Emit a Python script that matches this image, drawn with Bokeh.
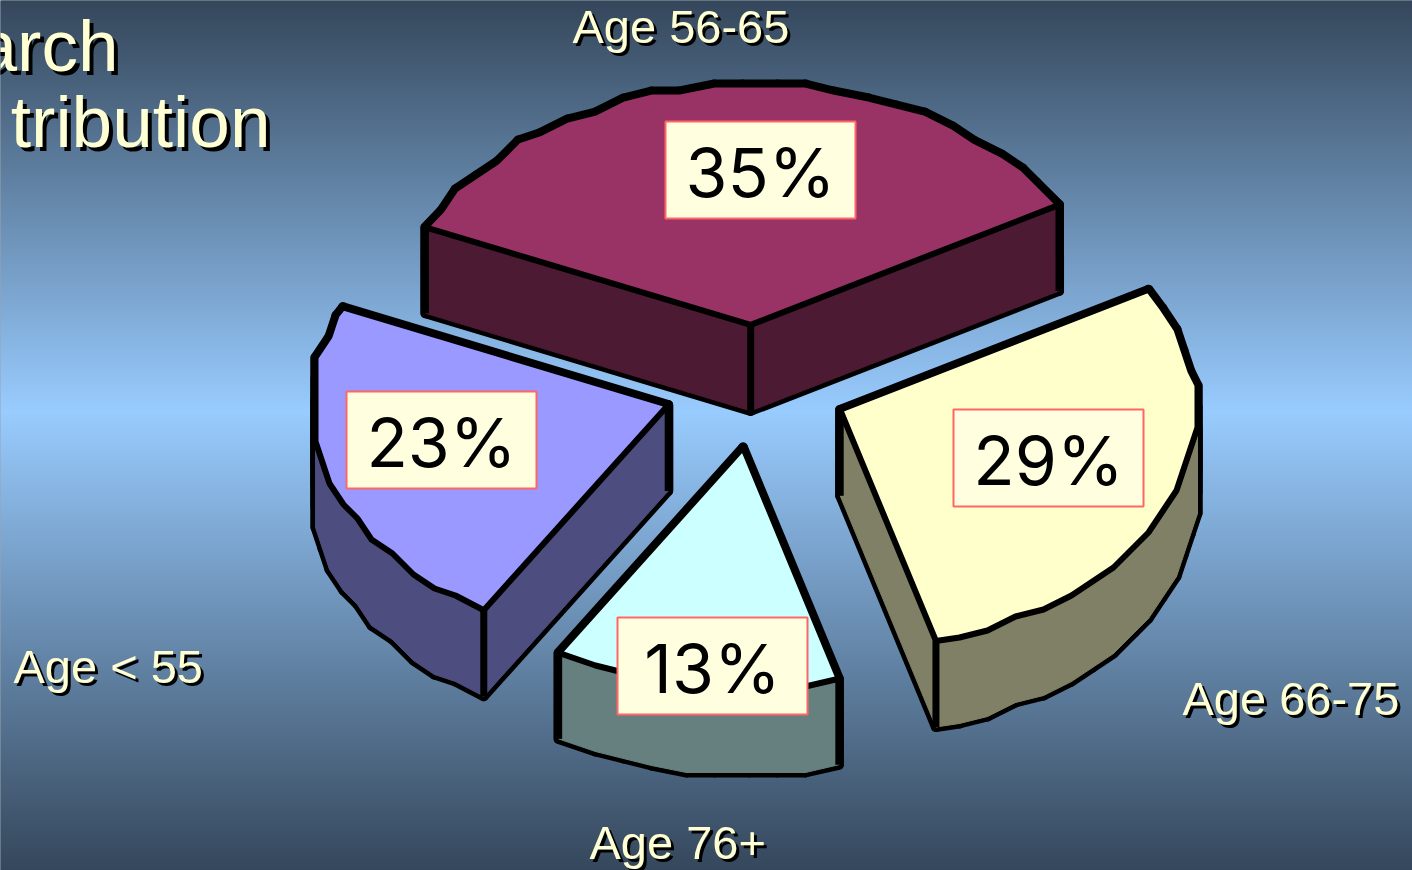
import numpy as np
from bokeh.plotting import figure
from bokeh.models import Range1d
from bokeh.core.properties import value
from bokeh.embed import file_html
from bokeh.resources import INLINE

# data (drawn clockwise from the right-hand edge of the 35% slice)
categories = ["Age 66-75", "Age 76+", "Age < 55", "Age 56-65"]
shares = [29, 13, 23, 35]
share_labels = ["29%", "13%", "23%", "35%"]
title_lines = ["arch", "tribution"]

# styles
top_colors = ["#ffffcc", "#ccffff", "#9999ff", "#993366"]
side_colors = ["#808066", "#668080", "#4d4d80", "#4d1a33"]
CREAM = "#ffffd4"

# layout, in pixels of the 1412x870 page
W, H = 1412, 870
CX, CY, RX, RY = 755, 386, 356, 240
EXPLODE, DEPTH, START = 0.257, 86, 60.0
STEP, SNAP = 5.0, 7
box_left = [953, 617, 346, 665]
box_top = [409, 617, 391, 121]
BOX_W, BOX_H = 190, 97
label_x = [1182, 589, 13, 572]
label_y = [698, 842, 666, 26]
title_x = [118, 270]
title_y = [45, 121]

p = figure(width=W, height=H, x_range=Range1d(0, W), y_range=Range1d(H, 0),
           output_backend="svg", toolbar_location=None, min_border=0)
p.axis.visible = False
p.grid.visible = False
p.outline_line_color = None
p.background_fill_color = "#34465a"
p.styles = {"position": "fixed", "left": "0px", "top": "0px"}

# background gradient
stops_y = np.array([0, 410, 870])
stops_c = np.array([[52, 70, 90], [153, 204, 255], [52, 70, 90]], dtype=float)
rows = np.arange(H)
rgba = np.zeros((H, 1), dtype=np.uint32)
view = rgba.view(np.uint8).reshape((H, 1, 4))
for k in range(3):
    view[:, 0, k] = np.interp(rows, stops_y, stops_c[:, k]).astype(np.uint8)
view[:, 0, 3] = 255
p.image_rgba(image=[rgba], x=-4, y=-4, dw=W + 8, dh=H + 8)


def rim(t0, t1, apex):
    ts = np.append(np.arange(t0, t1 - STEP / 2, STEP), t1)
    xs = apex[0] + RX * np.sin(np.radians(ts))
    ys = apex[1] - RY * np.cos(np.radians(ts))
    # the source picture's rim is a coarse, slightly wobbly outline
    sx = np.round(xs / SNAP) * SNAP
    sy = np.round(ys / SNAP) * SNAP
    sx[0], sy[0], sx[-1], sy[-1] = xs[0], ys[0], xs[-1], ys[-1]
    return sx, sy


angle = START
order = [3, 2, 0, 1]
geo = {}
for i, s in enumerate(shares):
    sweep = s * 3.6
    mid = np.radians(angle + sweep / 2)
    apex = (CX + EXPLODE * RX * np.sin(mid), CY - EXPLODE * RY * np.cos(mid))
    rx, ry = rim(angle, angle + sweep, apex)
    geo[i] = (apex, np.r_[apex[0], rx], np.r_[apex[1], ry])
    angle += sweep

for i in order:
    apex, tx, ty = geo[i]
    n = len(tx)
    qx = [[tx[j], tx[(j + 1) % n], tx[(j + 1) % n], tx[j]] for j in range(n)]
    qy = [[ty[j], ty[(j + 1) % n], ty[(j + 1) % n] + DEPTH, ty[j] + DEPTH] for j in range(n)]
    p.patches(qx, qy, fill_color="black", line_color="black", line_width=10, line_join="round")
    p.patches(qx, qy, fill_color=side_colors[i], line_color=side_colors[i], line_width=1)
    for j in (0, 1, n - 1):
        p.line([tx[j], tx[j]], [ty[j], ty[j] + DEPTH], line_color="black", line_width=7)
    p.patch(tx, ty, fill_color=top_colors[i], line_color="black", line_width=6, line_join="round")

# percentage boxes
for i in range(len(shares)):
    p.quad(left=box_left[i], right=box_left[i] + BOX_W, top=box_top[i], bottom=box_top[i] + BOX_H,
           fill_color="#ffffe0", line_color="#ff6666", line_width=2)
    p.text(x=[box_left[i] + BOX_W / 2], y=[box_top[i] + BOX_H / 2 + 2], text=[share_labels[i]],
           text_font=value("Inter"), text_font_size="68px", text_color="black",
           text_align="center", text_baseline="middle")

# outer labels with a drop shadow
for i, c in enumerate(categories):
    for dx, col in ((3, "black"), (0, CREAM)):
        p.text(x=[label_x[i] + dx], y=[label_y[i] + dx], text=[c], text_font=value("Liberation Sans"),
               text_font_size="47px", text_color=col, text_align="left", text_baseline="alphabetic")

# title, cut off by the left edge of the page as in the source
for t, x, y in zip(title_lines, title_x, title_y):
    for dx, col in ((4, "black"), (0, CREAM)):
        p.text(x=[x + dx], y=[y + dx], text=[t], text_font=value("Liberation Sans"),
               text_font_size="73px", text_color=col, text_align="right", text_baseline="alphabetic")

open("out.html", "w").write(file_html(p, INLINE))
